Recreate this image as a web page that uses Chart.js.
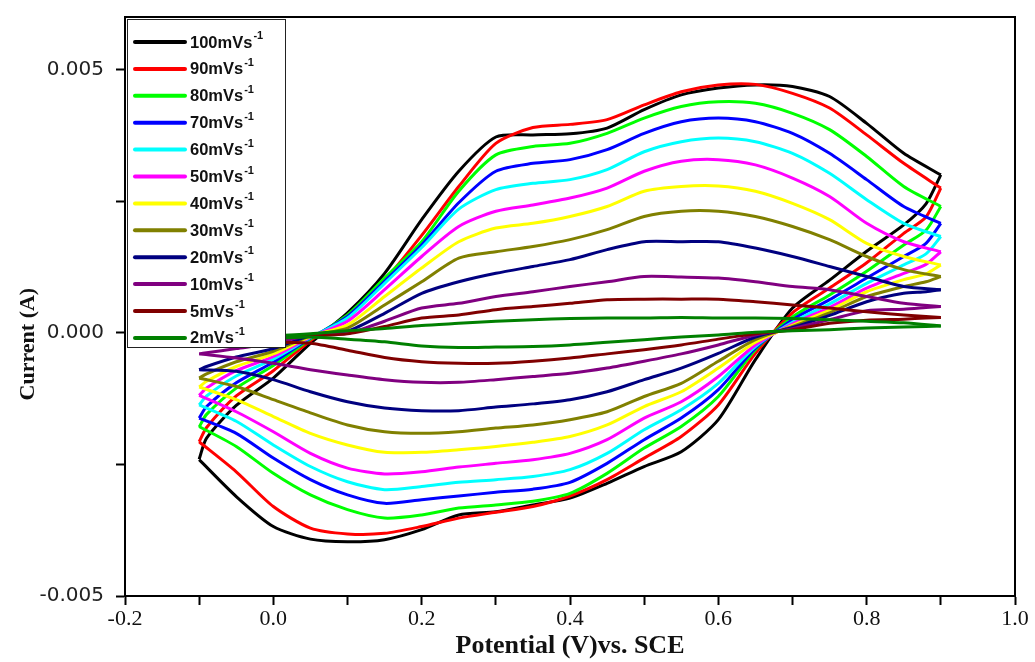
<!DOCTYPE html>
<html><head><meta charset="utf-8">
<script src="https://cdn.jsdelivr.net/npm/chart.js@4/dist/chart.umd.min.js"></script>
<style>html,body{margin:0;padding:0;background:#fff;}</style>
</head><body>
<canvas id="c" width="1035" height="662"></canvas>
<script>
// Scan rates (legend categories)
const rates = [100, 90, 80, 70, 60, 50, 40, 30, 20, 10, 5, 2];
const colors = ['#000000','#ff0000','#00ff00','#0000ff','#00ffff','#ff00ff','#ffff00','#808000','#000080','#800080','#800000','#008000'];

// Potential (V) for forward (anodic) and reverse (cathodic) sweeps
const xFwd = [-0.1,-0.09,-0.05,0,0.05,0.1,0.15,0.2,0.25,0.3,0.35,0.4,0.45,0.5,0.55,0.6,0.65,0.7,0.75,0.8,0.85,0.9];
const xRev = [0.9,0.88,0.85,0.8,0.75,0.7,0.65,0.6,0.55,0.5,0.45,0.4,0.35,0.3,0.25,0.2,0.15,0.1,0.05,0,-0.05,-0.1];

// Current (A)
const fwd100 = [-2.40e-3,-2.00e-3,-1.38e-3,-0.86e-3,-0.20e-3,0.38e-3,1.13e-3,2.15e-3,3.07e-3,3.72e-3,3.76e-3,3.78e-3,3.89e-3,4.24e-3,4.52e-3,4.65e-3,4.71e-3,4.68e-3,4.49e-3,3.98e-3,3.41e-3,3.00e-3];
const rev100 = [3.00e-3,2.45e-3,2.05e-3,1.55e-3,1.00e-3,0.47e-3,-0.51e-3,-1.65e-3,-2.26e-3,-2.54e-3,-2.86e-3,-3.14e-3,-3.27e-3,-3.40e-3,-3.46e-3,-3.74e-3,-3.93e-3,-3.97e-3,-3.92e-3,-3.68e-3,-3.11e-3,-2.41e-3];
const fwd90 = [-2.07e-3,-1.80e-3,-1.20e-3,-0.72e-3,-0.15e-3,0.33e-3,1.00e-3,1.85e-3,2.78e-3,3.60e-3,3.90e-3,3.96e-3,4.05e-3,4.33e-3,4.58e-3,4.71e-3,4.72e-3,4.55e-3,4.27e-3,3.76e-3,3.22e-3,2.75e-3];
const rev90 = [2.75e-3,2.20e-3,1.89e-3,1.33e-3,0.85e-3,0.38e-3,-0.39e-3,-1.37e-3,-1.97e-3,-2.38e-3,-2.79e-3,-3.10e-3,-3.30e-3,-3.41e-3,-3.52e-3,-3.68e-3,-3.81e-3,-3.82e-3,-3.71e-3,-3.30e-3,-2.64e-3,-2.07e-3];
const fwd80 = [-1.79e-3,-1.55e-3,-1.05e-3,-0.62e-3,-0.12e-3,0.34e-3,1.04e-3,1.73e-3,2.69e-3,3.38e-3,3.54e-3,3.60e-3,3.79e-3,4.08e-3,4.30e-3,4.39e-3,4.36e-3,4.17e-3,3.86e-3,3.35e-3,2.78e-3,2.40e-3];
const rev80 = [2.40e-3,1.95e-3,1.67e-3,1.17e-3,0.72e-3,0.30e-3,-0.32e-3,-1.21e-3,-1.78e-3,-2.19e-3,-2.67e-3,-3.05e-3,-3.20e-3,-3.27e-3,-3.33e-3,-3.46e-3,-3.52e-3,-3.36e-3,-3.08e-3,-2.67e-3,-2.16e-3,-1.78e-3];
const fwd70 = [-1.62e-3,-1.40e-3,-0.95e-3,-0.56e-3,-0.10e-3,0.31e-3,0.98e-3,1.67e-3,2.47e-3,3.07e-3,3.22e-3,3.29e-3,3.48e-3,3.79e-3,4.01e-3,4.08e-3,4.01e-3,3.79e-3,3.41e-3,2.91e-3,2.40e-3,2.08e-3];
const rev70 = [2.08e-3,1.70e-3,1.45e-3,1.04e-3,0.63e-3,0.25e-3,-0.29e-3,-1.08e-3,-1.62e-3,-2.03e-3,-2.48e-3,-2.84e-3,-2.97e-3,-3.03e-3,-3.10e-3,-3.17e-3,-3.24e-3,-3.08e-3,-2.79e-3,-2.38e-3,-1.91e-3,-1.62e-3];
const fwd60 = [-1.37e-3,-1.20e-3,-0.82e-3,-0.50e-3,-0.09e-3,0.28e-3,0.94e-3,1.62e-3,2.35e-3,2.72e-3,2.84e-3,2.91e-3,3.10e-3,3.44e-3,3.63e-3,3.70e-3,3.63e-3,3.41e-3,3.03e-3,2.53e-3,2.08e-3,1.83e-3];
const rev60 = [1.83e-3,1.50e-3,1.29e-3,0.94e-3,0.55e-3,0.20e-3,-0.26e-3,-0.96e-3,-1.46e-3,-1.84e-3,-2.29e-3,-2.60e-3,-2.73e-3,-2.79e-3,-2.84e-3,-2.92e-3,-2.98e-3,-2.83e-3,-2.54e-3,-2.13e-3,-1.68e-3,-1.37e-3];
const fwd50 = [-1.19e-3,-1.05e-3,-0.72e-3,-0.45e-3,-0.08e-3,0.22e-3,0.82e-3,1.45e-3,2.02e-3,2.31e-3,2.43e-3,2.56e-3,2.75e-3,3.07e-3,3.26e-3,3.29e-3,3.19e-3,2.94e-3,2.59e-3,2.08e-3,1.73e-3,1.54e-3];
const rev50 = [1.54e-3,1.30e-3,1.13e-3,0.85e-3,0.48e-3,0.17e-3,-0.23e-3,-0.83e-3,-1.31e-3,-1.62e-3,-2.03e-3,-2.29e-3,-2.41e-3,-2.48e-3,-2.55e-3,-2.64e-3,-2.68e-3,-2.57e-3,-2.29e-3,-1.88e-3,-1.50e-3,-1.19e-3];
const fwd40 = [-1.03e-3,-0.92e-3,-0.64e-3,-0.40e-3,-0.07e-3,0.15e-3,0.69e-3,1.23e-3,1.73e-3,1.99e-3,2.08e-3,2.21e-3,2.40e-3,2.69e-3,2.78e-3,2.79e-3,2.69e-3,2.46e-3,2.15e-3,1.70e-3,1.45e-3,1.29e-3];
const rev40 = [1.29e-3,1.12e-3,1.01e-3,0.78e-3,0.43e-3,0.14e-3,-0.18e-3,-0.67e-3,-1.12e-3,-1.40e-3,-1.75e-3,-1.97e-3,-2.08e-3,-2.16e-3,-2.22e-3,-2.27e-3,-2.27e-3,-2.13e-3,-1.91e-3,-1.59e-3,-1.27e-3,-1.03e-3];
const fwd30 = [-0.86e-3,-0.78e-3,-0.55e-3,-0.35e-3,-0.06e-3,0.09e-3,0.53e-3,0.97e-3,1.42e-3,1.54e-3,1.64e-3,1.77e-3,1.96e-3,2.21e-3,2.31e-3,2.31e-3,2.21e-3,2.02e-3,1.77e-3,1.45e-3,1.20e-3,1.07e-3];
const rev30 = [1.07e-3,0.97e-3,0.88e-3,0.69e-3,0.38e-3,0.12e-3,-0.13e-3,-0.54e-3,-0.96e-3,-1.21e-3,-1.50e-3,-1.65e-3,-1.75e-3,-1.81e-3,-1.88e-3,-1.91e-3,-1.88e-3,-1.75e-3,-1.52e-3,-1.27e-3,-1.02e-3,-0.86e-3];
const fwd20 = [-0.70e-3,-0.64e-3,-0.46e-3,-0.30e-3,-0.05e-3,0.03e-3,0.37e-3,0.75e-3,0.97e-3,1.13e-3,1.26e-3,1.39e-3,1.58e-3,1.73e-3,1.73e-3,1.73e-3,1.61e-3,1.45e-3,1.26e-3,1.07e-3,0.88e-3,0.82e-3];
const rev20 = [0.82e-3,0.78e-3,0.75e-3,0.59e-3,0.33e-3,0.10e-3,-0.08e-3,-0.39e-3,-0.67e-3,-0.89e-3,-1.12e-3,-1.27e-3,-1.35e-3,-1.41e-3,-1.48e-3,-1.48e-3,-1.43e-3,-1.31e-3,-1.12e-3,-0.89e-3,-0.73e-3,-0.70e-3];
const fwd10 = [-0.40e-3,-0.38e-3,-0.30e-3,-0.20e-3,-0.04e-3,-0.01e-3,0.22e-3,0.47e-3,0.56e-3,0.69e-3,0.78e-3,0.88e-3,0.97e-3,1.07e-3,1.06e-3,1.04e-3,0.97e-3,0.88e-3,0.82e-3,0.69e-3,0.56e-3,0.50e-3];
const rev10 = [0.50e-3,0.48e-3,0.45e-3,0.42e-3,0.25e-3,0.08e-3,-0.04e-3,-0.23e-3,-0.40e-3,-0.54e-3,-0.67e-3,-0.77e-3,-0.83e-3,-0.89e-3,-0.94e-3,-0.94e-3,-0.89e-3,-0.80e-3,-0.70e-3,-0.58e-3,-0.48e-3,-0.40e-3];
const fwd5 = [-0.20e-3,-0.19e-3,-0.16e-3,-0.11e-3,-0.06e-3,-0.02e-3,0.12e-3,0.28e-3,0.34e-3,0.44e-3,0.50e-3,0.56e-3,0.63e-3,0.64e-3,0.64e-3,0.64e-3,0.59e-3,0.53e-3,0.47e-3,0.40e-3,0.34e-3,0.29e-3];
const rev5 = [0.29e-3,0.28e-3,0.26e-3,0.24e-3,0.18e-3,0.06e-3,-0.02e-3,-0.12e-3,-0.23e-3,-0.32e-3,-0.40e-3,-0.48e-3,-0.54e-3,-0.58e-3,-0.58e-3,-0.55e-3,-0.47e-3,-0.33e-3,-0.20e-3,-0.18e-3,-0.19e-3,-0.20e-3];
const fwd2 = [-0.12e-3,-0.11e-3,-0.09e-3,-0.06e-3,-0.02e-3,0.04e-3,0.08e-3,0.14e-3,0.18e-3,0.22e-3,0.25e-3,0.27e-3,0.28e-3,0.28e-3,0.29e-3,0.28e-3,0.28e-3,0.27e-3,0.25e-3,0.22e-3,0.19e-3,0.13e-3];
const rev2 = [0.13e-3,0.12e-3,0.11e-3,0.09e-3,0.06e-3,0.04e-3,0.01e-3,-0.04e-3,-0.08e-3,-0.13e-3,-0.18e-3,-0.23e-3,-0.26e-3,-0.27e-3,-0.28e-3,-0.25e-3,-0.17e-3,-0.12e-3,-0.08e-3,-0.10e-3,-0.11e-3,-0.12e-3];

const fwdSets = [fwd100, fwd90, fwd80, fwd70, fwd60, fwd50, fwd40, fwd30, fwd20, fwd10, fwd5, fwd2];
const revSets = [rev100, rev90, rev80, rev70, rev60, rev50, rev40, rev30, rev20, rev10, rev5, rev2];

// Axis tick settings
const xMin = -0.2, xMax = 1.0, xStep = 0.1, xLabelEvery = 0.2;
const yMin = -0.005, yMax = 0.006, yStep = 0.0025, yLabelEvery = 0.005;

const datasets = [];
rates.forEach((r, i) => {
  const base = {
    label: r + 'mVs\u207B\u00B9',
    showLine: true,
    borderColor: colors[i],
    backgroundColor: colors[i],
    borderWidth: 3,
    pointRadius: 0,
    tension: 0.25,
    fill: false,
    order: rates.length - 1 - i
  };
  datasets.push(Object.assign({}, base, { data: xFwd.map((x, k) => ({x: x, y: fwdSets[i][k]})) }));
  datasets.push(Object.assign({}, base, { data: xRev.map((x, k) => ({x: x, y: revSets[i][k]})) }));
});

const framePlugin = {
  id: 'frame',
  afterDatasetsDraw(chart) {
    const {ctx, chartArea: a} = chart;
    ctx.save();
    // legend box inside plot area
    const lx = a.left + 2, ly = a.top + 2, lw = 158, lh = 328;
    ctx.fillStyle = '#fff';
    ctx.fillRect(lx, ly, lw, lh);
    ctx.strokeStyle = '#222';
    ctx.lineWidth = 1;
    ctx.strokeRect(lx + 0.5, ly + 0.5, lw, lh);
    const rowH = 26.9;
    rates.forEach((r, i) => {
      const cy = ly + 23 + i * rowH;
      ctx.strokeStyle = colors[i];
      ctx.lineWidth = 4;
      ctx.lineCap = 'round';
      ctx.beginPath();
      ctx.moveTo(lx + 8, cy);
      ctx.lineTo(lx + 58, cy);
      ctx.stroke();
      ctx.fillStyle = '#111';
      ctx.font = 'bold 16.5px "Liberation Sans", Arial, sans-serif';
      ctx.textBaseline = 'middle';
      ctx.textAlign = 'left';
      const t = r + 'mVs';
      ctx.fillText(t, lx + 63, cy + 1);
      const w = ctx.measureText(t).width;
      ctx.font = 'bold 11px "Liberation Sans", Arial, sans-serif';
      ctx.fillText('-1', lx + 64 + w, cy - 6);
    });
    ctx.restore();
  },
  afterDraw(chart) {
    const {ctx, chartArea: a} = chart;
    ctx.save();
    ctx.strokeStyle = '#000';
    ctx.lineWidth = 2;
    ctx.strokeRect(a.left, a.top, a.right - a.left, a.bottom - a.top);
    // y-axis title
    ctx.translate(28, a.top + (a.bottom - a.top) * 0.565);
    ctx.rotate(-Math.PI / 2);
    ctx.font = 'bold 22px "Liberation Serif", "Times New Roman", serif';
    ctx.fillStyle = '#111';
    ctx.textAlign = 'center';
    ctx.textBaseline = 'middle';
    ctx.fillText('Current (A)', 0, 0);
    ctx.restore();
  }
};

new Chart(document.getElementById('c'), {
  type: 'scatter',
  data: { datasets },
  options: {
    responsive: false,
    animation: false,
    devicePixelRatio: 1,
    layout: { padding: { top: 17, right: 20, left: 0, bottom: 0 } },
    plugins: { legend: { display: false }, tooltip: { enabled: false } },
    scales: {
      x: {
        type: 'linear',
        min: xMin, max: xMax,
        afterFit: s => { s.height = 66; s.paddingLeft = 0; s.paddingRight = 0; },
        border: { display: true, color: '#000', width: 2 },
        grid: { drawOnChartArea: false, drawTicks: true, tickLength: 9, tickColor: '#000', tickWidth: 2 },
        ticks: {
          stepSize: xStep, autoSkip: false, includeBounds: false, maxRotation: 0, padding: 1,
          color: '#111',
          font: { family: '"Liberation Serif", "Times New Roman", serif', size: 22 },
          callback: v => {
            if (Math.abs(v / xLabelEvery - Math.round(v / xLabelEvery)) > 1e-6) return '';
            return (Math.abs(v) < 1e-9 ? 0 : v).toFixed(1);
          }
        },
        title: {
          display: true, text: 'Potential (V)vs. SCE', color: '#111',
          font: { family: '"Liberation Serif", "Times New Roman", serif', size: 26, weight: 'bold' },
          padding: { top: 0, bottom: 0 }
        }
      },
      y: {
        type: 'linear',
        min: yMin, max: yMax,
        afterFit: s => { s.width = 125; s.paddingTop = 0; s.paddingBottom = 0; },
        border: { display: true, color: '#000', width: 2 },
        grid: { drawOnChartArea: false, drawTicks: true, tickLength: 9, tickColor: '#000', tickWidth: 2 },
        ticks: {
          stepSize: yStep, autoSkip: false, includeBounds: false, padding: 12,
          color: '#222',
          font: { family: '"DejaVu Sans", Arial, sans-serif', size: 20 },
          callback: v => {
            if (Math.abs(v / yLabelEvery - Math.round(v / yLabelEvery)) > 1e-6) return '';
            return (Math.abs(v) < 1e-9 ? 0 : v).toFixed(3);
          }
        }
      }
    }
  },
  plugins: [framePlugin]
});
</script>
</body></html>
